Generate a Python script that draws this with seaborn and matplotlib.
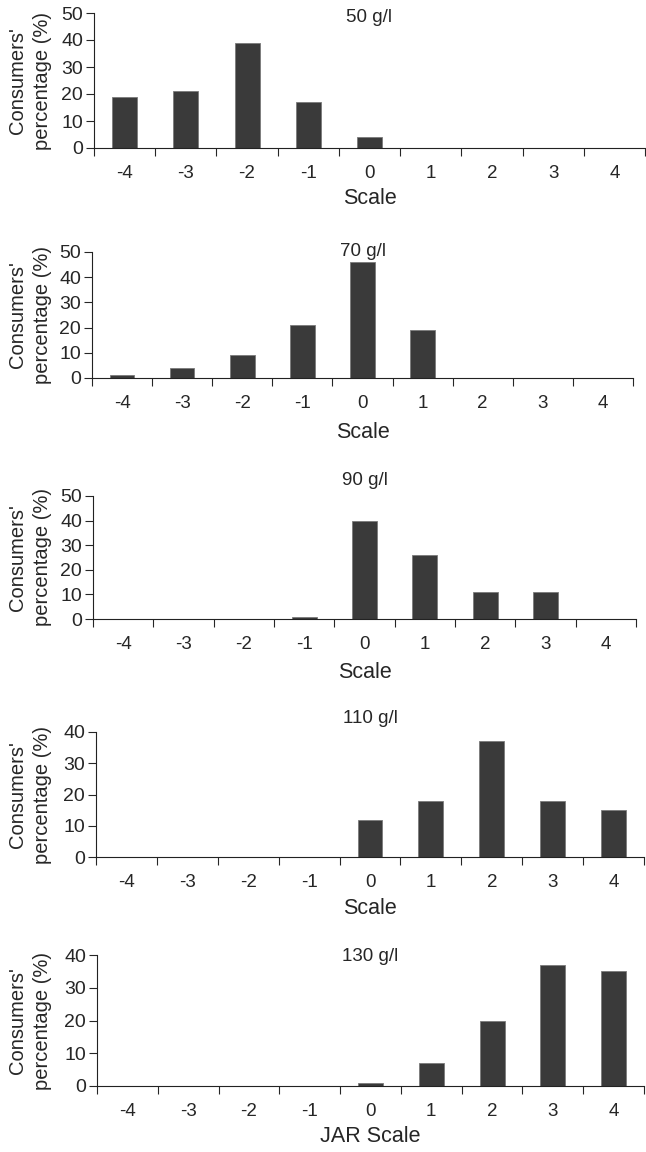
import matplotlib
matplotlib.use("Agg")
import matplotlib.pyplot as plt
import seaborn as sns
import numpy as np
from matplotlib.ticker import FixedLocator

# JAR scale categories
scale = ["-4", "-3", "-2", "-1", "0", "1", "2", "3", "4"]

# consumers' percentage per sugar level
pct_50 = [19, 21, 39, 17, 4, 0, 0, 0, 0]
pct_70 = [1, 4, 9, 21, 46, 19, 0, 0, 0]
pct_90 = [0, 0, 0, 1, 40, 26, 11, 11, 0]
pct_110 = [0, 0, 0, 0, 12, 18, 37, 18, 15]
pct_130 = [0, 0, 0, 0, 1, 7, 20, 37, 35]

titles = ["50 g/l", "70 g/l", "90 g/l", "110 g/l", "130 g/l"]
xlabels = ["Scale", "Scale", "Scale", "Scale", "JAR Scale"]
ymax = [50, 50, 50, 40, 40]

sns.set_style("ticks")
plt.rcParams["font.family"] = ["Liberation Sans", "DejaVu Sans"]

W, H = 646, 1152
fig = plt.figure(figsize=(W / 100, H / 100), dpi=100)

# panel boxes in pixels: left, right, top, bottom
boxes = [(94, 645, 13, 148), (92, 633, 252, 378), (93, 636, 496, 619),
         (96, 644, 732, 857), (97, 644, 955, 1086)]
title_y = [0.97, 1.0, 1.13, 1.11, 0.985]
xlab_off = [50, 54, 54, 51, 51]

bar_color = "#3a3a3a"
series = [pct_50, pct_70, pct_90, pct_110, pct_130]

for i, vals in enumerate(series):
    l, r, t, b = boxes[i]
    ax = fig.add_axes([l / W, (H - b) / H, (r - l) / W, (b - t) / H])
    sns.barplot(x=scale, y=vals, order=scale, color=bar_color, saturation=1,
                width=0.41, ax=ax, edgecolor="#7a7a7a", linewidth=0.6)
    ax.set_xlim(-0.5, 8.5)
    ax.set_ylim(0, ymax[i])
    ax.set_yticks(np.arange(0, ymax[i] + 1, 10))
    ax.xaxis.set_minor_locator(FixedLocator(np.arange(-0.5, 9, 1)))
    ax.tick_params(axis="x", which="major", length=0, pad=12, labelsize=13.5)
    ax.tick_params(axis="x", which="minor", length=6, width=0.8, direction="out")
    ax.tick_params(axis="y", length=6, width=0.8, labelsize=14, pad=2)
    for s in ["top", "right"]:
        ax.spines[s].set_visible(False)
    for s in ["left", "bottom"]:
        ax.spines[s].set_linewidth(0.8)
        ax.spines[s].set_color("#222222")
    ax.text(0.5, title_y[i], titles[i], transform=ax.transAxes, ha="center",
            va="center", fontsize=13.5)
    ax.set_xlabel(xlabels[i], fontsize=15.5)
    ax.xaxis.set_label_coords(0.5, -xlab_off[i] / (b - t))
    ax.xaxis.label.set_verticalalignment("center")
    ax.set_ylabel("Consumers'\npercentage (%)", fontsize=14.5, linespacing=1.35)
    ax.yaxis.set_label_coords(-(l - 30) / (r - l), 0.5)
    ax.yaxis.label.set_verticalalignment("center")

fig.savefig("out.png", dpi=100)
